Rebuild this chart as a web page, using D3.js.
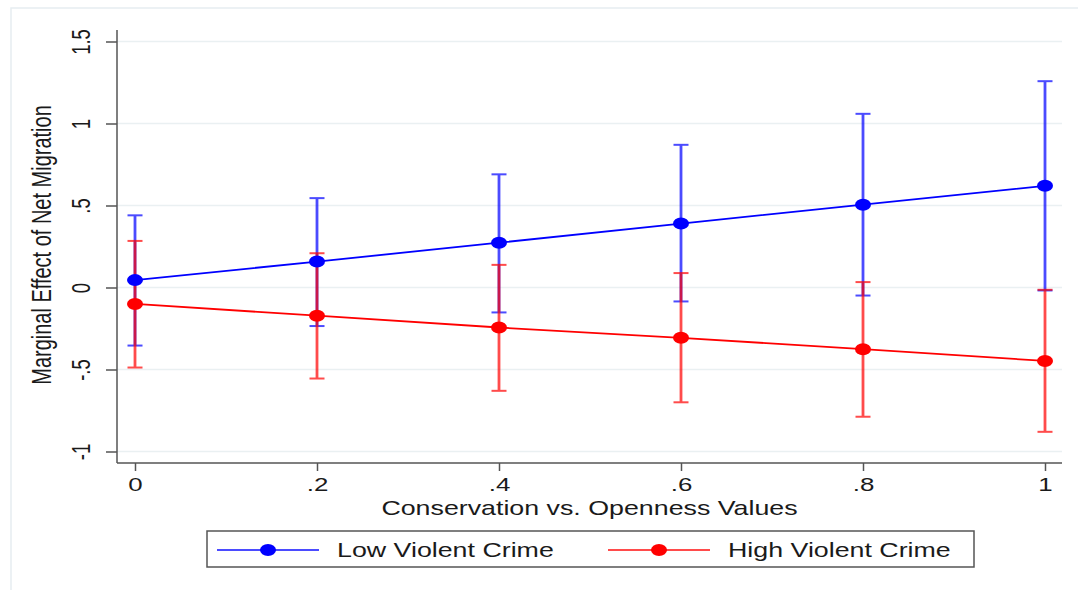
<!DOCTYPE html>
<html>
<head>
<meta charset="utf-8">
<script src="https://cdn.jsdelivr.net/npm/d3@7"></script>
<style>
  body { margin: 0; background: #fff; }
  svg { display: block; font-family: "Liberation Sans", Arial, sans-serif; }
</style>
</head>
<body>
<svg id="chart" width="1078" height="590"></svg>
<script>
// values (margins at each level of the moderator)
const xValues = [0, 0.2, 0.4, 0.6, 0.8, 1]
const lowEst = [0.045, 0.158, 0.273, 0.39, 0.505, 0.62]
const lowLo = [-0.354, -0.235, -0.152, -0.085, -0.049, -0.018]
const lowHi = [0.44, 0.545, 0.69, 0.87, 1.059, 1.258]
const highEst = [-0.10, -0.172, -0.244, -0.307, -0.376, -0.448]
const highLo = [-0.488, -0.555, -0.63, -0.70, -0.788, -0.88]
const highHi = [0.284, 0.209, 0.138, 0.088, 0.033, -0.014]

const xTicks = [0, 0.2, 0.4, 0.6, 0.8, 1]
const xTickLabels = ['0', '.2', '.4', '.6', '.8', '1']
const yTicks = [-1, -0.5, 0, 0.5, 1, 1.5]
const yTickLabels = ['-1', '-.5', '0', '.5', '1', '1.5']

const seriesNames = ['Low Violent Crime', 'High Violent Crime']
const seriesColors = ['#0000ff', '#ff0000']

// the picture is stretched horizontally, so text gets a matching x-scale
const STRETCH = 1.34
const TICK_STRETCH = 1.4
const plot = { left: 117, right: 1062, top: 30, bottom: 463 }

const svg = d3.select('#chart')

const x = d3.scaleLinear().domain([0, 1]).range([135, 1045])
const y = d3.scaleLinear().domain([-1, 1.5]).range([451.5, 41.5])

// outer graph region border
svg.append('rect')
  .attr('x', 11).attr('y', 8)
  .attr('width', 1100).attr('height', 620)
  .attr('fill', 'none')
  .attr('stroke', '#e6edf1')
  .attr('stroke-width', 1.5)

// gridlines
svg.append('g')
  .selectAll('line')
  .data(yTicks)
  .join('line')
  .attr('x1', plot.left).attr('x2', plot.right)
  .attr('y1', d => y(d)).attr('y2', d => y(d))
  .attr('stroke', '#eaf0f2')
  .attr('stroke-width', 1.5)

// y axis
const yAxis = svg.append('g')
  .attr('transform', `translate(${plot.left},0)`)
  .call(d3.axisLeft(y).tickValues(yTicks).tickSize(11)
    .tickFormat((d, i) => yTickLabels[i]))
yAxis.select('.domain').remove()
yAxis.selectAll('.tick line').attr('stroke', '#555').attr('stroke-width', 1.5)
yAxis.selectAll('.tick text')
  .attr('x', null).attr('dy', null).attr('y', 0)
  .attr('text-anchor', 'middle')
  .attr('font-size', 18.5)
  .attr('fill', '#1a1a1a')
  .attr('transform', `translate(-27,0) scale(${TICK_STRETCH},1) rotate(-90)`)

// x axis
const xAxis = svg.append('g')
  .attr('transform', `translate(0,${plot.bottom})`)
  .call(d3.axisBottom(x).tickValues(xTicks).tickSize(8)
    .tickFormat((d, i) => xTickLabels[i]))
xAxis.select('.domain').remove()
xAxis.selectAll('.tick line').attr('stroke', '#555').attr('stroke-width', 1.5)
xAxis.selectAll('.tick text')
  .attr('y', 0).attr('dy', null)
  .attr('text-anchor', 'middle')
  .attr('font-size', 18.5)
  .attr('fill', '#1a1a1a')
  .attr('transform', `translate(0,28) scale(${TICK_STRETCH},1)`)

// axis lines
svg.append('line')
  .attr('x1', plot.left).attr('x2', plot.left)
  .attr('y1', plot.top).attr('y2', plot.bottom)
  .attr('stroke', '#555').attr('stroke-width', 1.5)
svg.append('line')
  .attr('x1', plot.left).attr('x2', plot.right)
  .attr('y1', plot.bottom).attr('y2', plot.bottom)
  .attr('stroke', '#555').attr('stroke-width', 1.5)

// axis titles
svg.append('text')
  .attr('transform', `translate(${(plot.left + plot.right) / 2},515) scale(${STRETCH},1)`)
  .attr('text-anchor', 'middle')
  .attr('font-size', 20)
  .attr('fill', '#1a1a1a')
  .text('Conservation vs. Openness Values')

svg.append('text')
  .attr('transform', `translate(51,245) scale(${STRETCH},1) rotate(-90)`)
  .attr('text-anchor', 'middle')
  .attr('font-size', 20)
  .attr('fill', '#1a1a1a')
  .text('Marginal Effect of Net Migration')

const series = [
  { est: lowEst, lo: lowLo, hi: lowHi, color: seriesColors[0] },
  { est: highEst, lo: highLo, hi: highHi, color: seriesColors[1] },
]

const capHalf = 7.5

// confidence intervals first, then connected estimates on top
series.forEach(s => {
  const g = svg.append('g').attr('opacity', 0.7)
  const rows = xValues.map((v, i) => ({ x: v, lo: s.lo[i], hi: s.hi[i] }))
  g.selectAll('line.bar')
    .data(rows)
    .join('line')
    .attr('class', 'bar')
    .attr('x1', d => x(d.x)).attr('x2', d => x(d.x))
    .attr('y1', d => y(d.lo)).attr('y2', d => y(d.hi))
    .attr('stroke', s.color).attr('stroke-width', 2.8)
  g.selectAll('line.capHi')
    .data(rows)
    .join('line')
    .attr('class', 'capHi')
    .attr('x1', d => x(d.x) - capHalf).attr('x2', d => x(d.x) + capHalf)
    .attr('y1', d => y(d.hi)).attr('y2', d => y(d.hi))
    .attr('stroke', s.color).attr('stroke-width', 2)
  g.selectAll('line.capLo')
    .data(rows)
    .join('line')
    .attr('class', 'capLo')
    .attr('x1', d => x(d.x) - capHalf).attr('x2', d => x(d.x) + capHalf)
    .attr('y1', d => y(d.lo)).attr('y2', d => y(d.lo))
    .attr('stroke', s.color).attr('stroke-width', 2)
})

series.forEach(s => {
  const pts = xValues.map((v, i) => [v, s.est[i]])
  svg.append('path')
    .attr('d', d3.line().x(d => x(d[0])).y(d => y(d[1]))(pts))
    .attr('fill', 'none')
    .attr('stroke', s.color)
    .attr('stroke-width', 1.8)
  svg.append('g')
    .selectAll('ellipse')
    .data(pts)
    .join('ellipse')
    .attr('cx', d => x(d[0])).attr('cy', d => y(d[1]))
    .attr('rx', 8).attr('ry', 6)
    .attr('fill', s.color)
})

// legend
const legend = svg.append('g')
legend.append('rect')
  .attr('x', 207).attr('y', 531)
  .attr('width', 767).attr('height', 36)
  .attr('fill', '#fff')
  .attr('stroke', '#555').attr('stroke-width', 1.5)

const legendX = [217, 608]
seriesNames.forEach((name, i) => {
  const lx = legendX[i]
  legend.append('line')
    .attr('x1', lx).attr('x2', lx + 102)
    .attr('y1', 550).attr('y2', 550)
    .attr('stroke', seriesColors[i]).attr('stroke-width', 2.2)
    .attr('opacity', 0.7)
  legend.append('ellipse')
    .attr('cx', lx + 51).attr('cy', 550)
    .attr('rx', 8).attr('ry', 6)
    .attr('fill', seriesColors[i])
  legend.append('text')
    .attr('transform', `translate(${lx + 120},557) scale(${STRETCH},1)`)
    .attr('font-size', 20)
    .attr('fill', '#1a1a1a')
    .text(name)
})
</script>
</body>
</html>
